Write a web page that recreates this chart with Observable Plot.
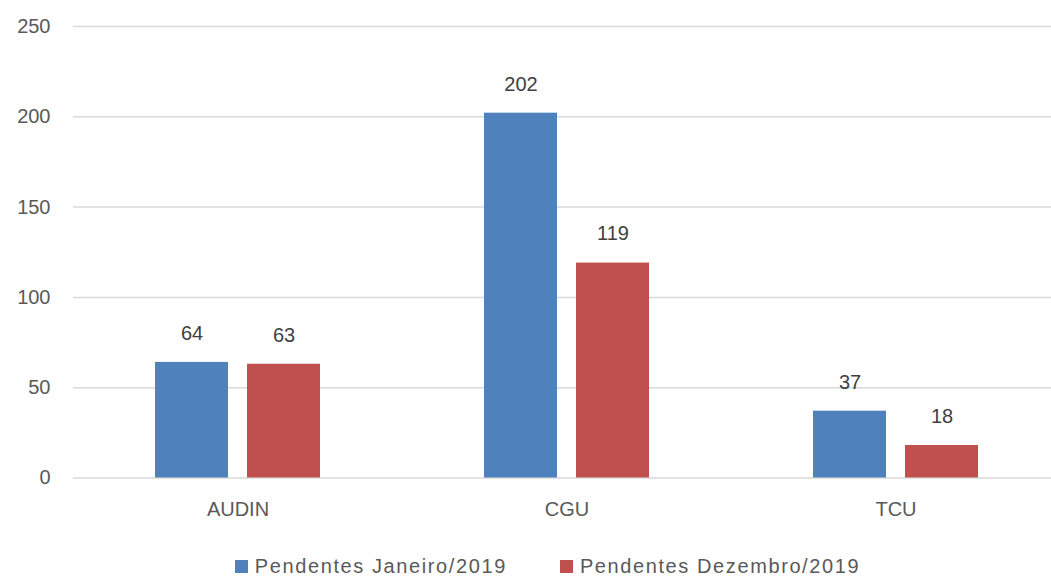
<!DOCTYPE html>
<html>
<head>
<meta charset="utf-8">
<script src="https://cdn.jsdelivr.net/npm/d3@7"></script>
<script src="https://cdn.jsdelivr.net/npm/@observablehq/plot@0.6"></script>
<style>
  html, body { margin: 0; padding: 0; background: #fff; overflow: hidden; }
  #chart { width: 1051px; }
  #legend { margin-top: 10px; width: 1051px; box-sizing: border-box; padding-left: 44px; }
  #legend .lg-swatches-wrap { justify-content: center; font-size: 20px; letter-spacing: 1.6px; color: #595959; font-family: "Liberation Sans", Arial, sans-serif; }
  #legend .lg-swatch { margin-right: 53px; }
  #legend .lg-swatch:last-child { margin-right: 0; }
  #legend .lg-swatch svg { margin-right: 7px; }
</style>
</head>
<body>
<div id="chart"></div>
<script>
const categories = ["AUDIN", "CGU", "TCU"];
const series = ["Pendentes Janeiro/2019", "Pendentes Dezembro/2019"];
const janeiro = [64, 202, 37];
const dezembro = [63, 119, 18];
const yTicks = [0, 50, 100, 150, 200, 250];
const colors = ["#4f81bd", "#c0504d"];

const rows = categories.flatMap((c, i) => [
  {cat: c, serie: series[0], value: janeiro[i]},
  {cat: c, serie: series[1], value: dezembro[i]}
]);

const chart = Plot.plot({
  width: 1051,
  height: 540,
  marginTop: 26,
  marginBottom: 62.5,
  marginLeft: 72,
  marginRight: -9,
  style: {fontFamily: "'Liberation Sans', Arial, sans-serif", fontSize: "20px", color: "#595959", background: "white"},
  fx: {domain: categories, padding: 0, label: null, tickSize: 0, tickPadding: 24},
  x: {domain: series, axis: null, paddingInner: 0.2043, paddingOuter: 0.871},
  y: {domain: [0, 250], ticks: yTicks, label: null, tickSize: 0, tickPadding: 23},
  color: {domain: series, range: colors},
  marks: [
    Plot.ruleY(yTicks, {stroke: "#d9d9d9", strokeWidth: 1.5}),
    Plot.barY(rows, {fx: "cat", x: "serie", y: "value", fill: "serie"}),
    Plot.text(rows, {fx: "cat", x: "serie", y: "value", text: d => String(d.value), dy: -29, fill: "#404040", fontSize: 20})
  ]
});
document.getElementById("chart").appendChild(chart);

const lg = Plot.legend({
  color: {domain: series, range: colors},
  legend: "swatches",
  swatchSize: 13,
  className: "lg"
});
const wrap = document.createElement("div");
wrap.id = "legend";
wrap.appendChild(lg);
document.body.appendChild(wrap);
</script>
</body>
</html>
